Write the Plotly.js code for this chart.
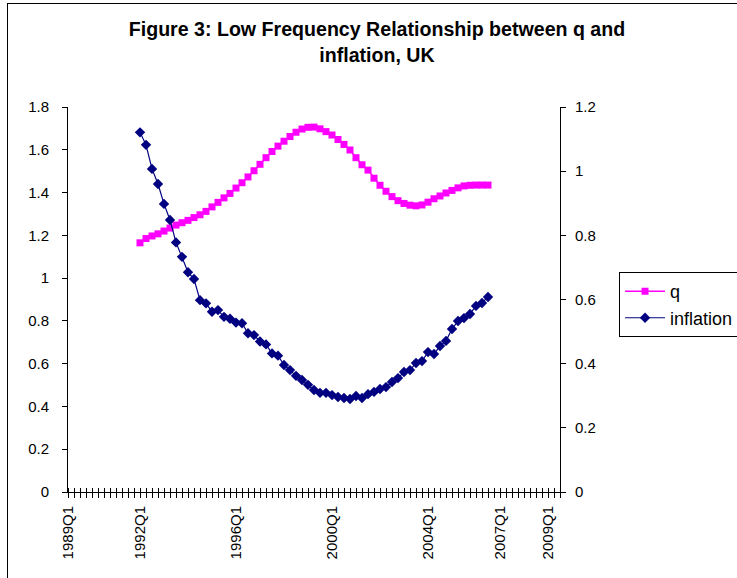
<!DOCTYPE html>
<html>
<head>
<meta charset="utf-8">
<script src="https://cdn.plot.ly/plotly-3.0.1.min.js"></script>
<style>
  html, body { margin: 0; padding: 0; background: #fff; }
  #wrap { position: relative; width: 737px; height: 578px; overflow: hidden; }
  #frame { position: absolute; left: 7px; top: 3px; width: 740px; height: 600px; border: 1px solid #000; box-sizing: border-box; }
  #chart { position: absolute; left: 0; top: 0; width: 737px; height: 578px; }
</style>
</head>
<body>
<div id="wrap">
  <div id="frame"></div>
  <div id="chart"></div>
</div>
<script>
// Quarter categories on the x axis: 1989Q1 .. 2009Q3
const firstYear = 1989;
const lastYear = 2009;
const lastQuarter = 3;
const quarters = [];
for (let y = firstYear; y <= lastYear; y++) {
  for (let q = 1; q <= 4; q++) {
    if (y === lastYear && q > lastQuarter) break;
    quarters.push(y + 'Q' + q);
  }
}

// Labels shown under the axis
const shownLabels = ['1989Q1', '1992Q1', '1996Q1', '2000Q1', '2004Q1', '2007Q1', '2009Q1'];

// Series start quarter
const seriesStart = '1992Q1';

// q (left axis)
const qValues = [
  1.165, 1.185, 1.197, 1.207, 1.220, 1.234, 1.248, 1.259, 1.270, 1.283,
  1.296, 1.312, 1.333, 1.354, 1.375, 1.396, 1.421, 1.446, 1.473, 1.502,
  1.532, 1.563, 1.592, 1.617, 1.640, 1.662, 1.682, 1.697, 1.705, 1.706,
  1.698, 1.685, 1.669, 1.648, 1.625, 1.599, 1.563, 1.530, 1.505, 1.467,
  1.434, 1.406, 1.381, 1.362, 1.349, 1.341, 1.338, 1.342, 1.355, 1.371,
  1.384, 1.398, 1.410, 1.422, 1.431, 1.434, 1.435, 1.435, 1.435
];

// inflation (right axis)
const inflationValues = [
  1.121, 1.082, 1.007, 0.960, 0.898, 0.848, 0.778, 0.733, 0.685, 0.664,
  0.598, 0.588, 0.562, 0.567, 0.546, 0.540, 0.528, 0.526, 0.495, 0.489,
  0.469, 0.460, 0.432, 0.425, 0.396, 0.380, 0.362, 0.349, 0.334, 0.318,
  0.309, 0.309, 0.302, 0.296, 0.293, 0.290, 0.299, 0.293, 0.305, 0.312,
  0.321, 0.327, 0.343, 0.355, 0.374, 0.380, 0.402, 0.408, 0.436, 0.430,
  0.455, 0.471, 0.508, 0.533, 0.542, 0.555, 0.580, 0.589, 0.608
];

const startIdx = quarters.indexOf(seriesStart);
const xQ = qValues.map((_, i) => startIdx + i);
const xInf = inflationValues.map((_, i) => startIdx + i);

const tickVals = quarters.map((_, i) => i);
const tickText = quarters.map(s => shownLabels.includes(s) ? s : '');

const FONT = 'Liberation Sans, Arial, sans-serif';

const traces = [
  {
    x: xQ, y: qValues, name: 'q', type: 'scatter', mode: 'lines+markers',
    line: { color: '#FF00FF', width: 1.5 },
    marker: { symbol: 'square', size: 7, color: '#FF00FF' },
    yaxis: 'y'
  },
  {
    x: xInf, y: inflationValues, name: 'inflation', type: 'scatter', mode: 'lines+markers',
    line: { color: '#000080', width: 1.2 },
    marker: { symbol: 'diamond', size: 8, color: '#000080' },
    yaxis: 'y2'
  }
];

const layout = {
  width: 737, height: 578,
  margin: { l: 68, r: 177, t: 107, b: 86, autoexpand: false },
  paper_bgcolor: 'rgba(0,0,0,0)',
  plot_bgcolor: 'rgba(0,0,0,0)',
  font: { family: FONT, size: 15, color: '#000' },
  title: {
    text: '<b>Figure 3: Low Frequency Relationship between q and<br>inflation, UK</b>',
    font: { family: FONT, size: 19.6, color: '#000' },
    x: 0.5115, xanchor: 'center', xref: 'container',
    y: 0.937, yanchor: 'top', yref: 'container'
  },
  xaxis: {
    range: [0, quarters.length - 1],
    tickmode: 'array', tickvals: tickVals, ticktext: tickText,
    tickangle: -90,
    ticks: 'outside', ticklen: 5, tickcolor: '#000', tickwidth: 1,
    minor: { ticks: 'inside', ticklen: 4, tickmode: 'linear', tick0: 0, dtick: 1, tickcolor: '#000', showgrid: false },
    showline: true, linecolor: '#000', linewidth: 1,
    showgrid: false, zeroline: false,
    ticklabelstandoff: 2,
    tickfont: { family: FONT, size: 15, color: '#000' }
  },
  yaxis: {
    range: [0, 1.8], dtick: 0.2, tick0: 0,
    ticks: 'outside', ticklen: 5, tickcolor: '#000',
    showline: true, linecolor: '#000', linewidth: 1,
    showgrid: false, zeroline: false,
    ticklabelstandoff: 10,
    tickfont: { family: FONT, size: 15, color: '#000' }
  },
  yaxis2: {
    range: [0, 1.2], dtick: 0.2, tick0: 0,
    overlaying: 'y', side: 'right',
    ticks: 'outside', ticklen: 5, tickcolor: '#000',
    showline: true, linecolor: '#000', linewidth: 1,
    showgrid: false, zeroline: false,
    ticklabelstandoff: 6,
    tickfont: { family: FONT, size: 15, color: '#000' }
  },
  showlegend: true,
  legend: {
    x: 1.12, xanchor: 'left', y: 0.571, yanchor: 'top',
    bordercolor: '#000', borderwidth: 1, bgcolor: '#fff',
    font: { family: FONT, size: 18, color: '#000' },
    tracegroupgap: 0, itemwidth: 40
  }
};

Plotly.newPlot('chart', traces, layout, { displayModeBar: false, staticPlot: true });
</script>
</body>
</html>
